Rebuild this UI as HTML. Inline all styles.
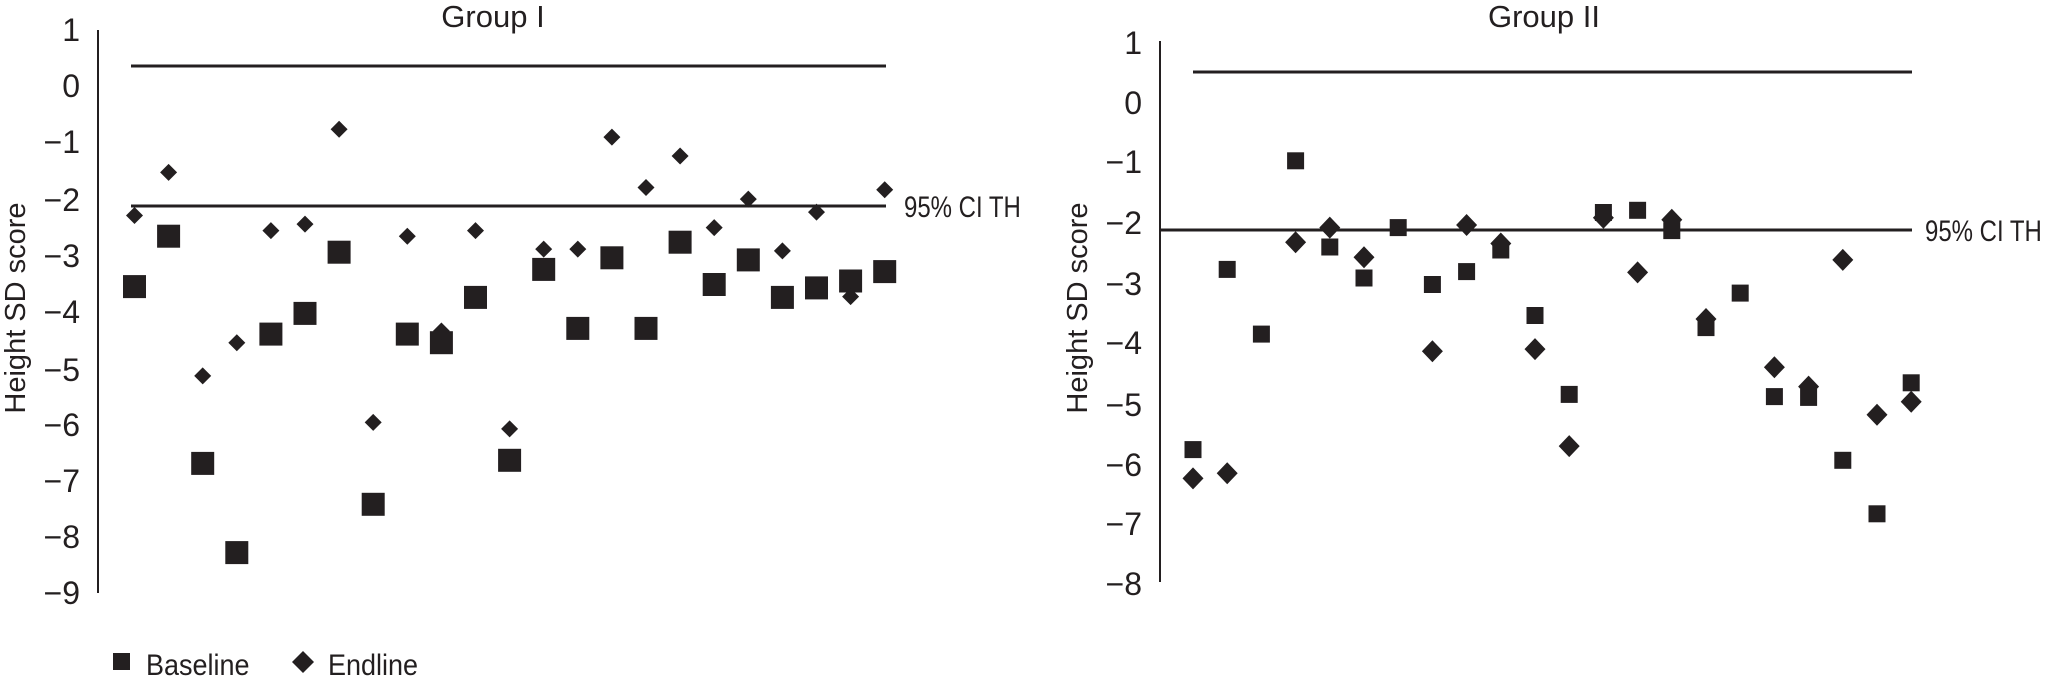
<!DOCTYPE html>
<html><head><meta charset="utf-8"><style>
html,body{margin:0;padding:0;background:#fff;}
svg{display:block;}
text{font-family:"Liberation Sans Narrow","Liberation Sans",sans-serif;fill:#231f20;}
</style></head><body>
<svg width="2058" height="676" viewBox="0 0 2058 676" xmlns="http://www.w3.org/2000/svg">
<defs>
<rect id="sqL" x="-11.5" y="-11.5" width="23" height="23" fill="#231f20"/>
<polygon id="dmL" points="0,-8.5 8.5,0 0,8.5 -8.5,0" fill="#231f20"/>
<rect id="sqR" x="-8.5" y="-8.5" width="17" height="17" fill="#231f20"/>
<polygon id="dmR" points="0,-11 10.5,0 0,11 -10.5,0" fill="#231f20"/>
</defs>
<!-- LEFT -->
<g font-size="32" text-anchor="end">
<text x="80" y="41">1</text><text x="80" y="97">0</text><text x="80" y="153">−1</text><text x="80" y="211">−2</text><text x="80" y="267">−3</text><text x="80" y="323">−4</text><text x="80" y="381">−5</text><text x="80" y="436">−6</text><text x="80" y="492">−7</text><text x="80" y="548">−8</text><text x="80" y="604">−9</text>
</g>
<text transform="translate(25,308) rotate(-90)" font-size="29" text-anchor="middle">Height SD score</text>
<text x="493" y="27" font-size="31" text-anchor="middle">Group I</text>
<line x1="98" y1="30" x2="98" y2="593" stroke="#231f20" stroke-width="2"/>
<line x1="131" y1="66" x2="886" y2="66" stroke="#231f20" stroke-width="3"/>
<line x1="131" y1="206" x2="886" y2="206" stroke="#231f20" stroke-width="3"/>
<text x="904" y="217" font-size="30" transform="translate(904,0) scale(0.8,1) translate(-904,0)">95% CI TH</text>
<use href="#sqL" x="134.5" y="286.6"/><use href="#sqL" x="168.6" y="236.2"/><use href="#sqL" x="202.7" y="463.4"/><use href="#sqL" x="236.8" y="552.6"/><use href="#sqL" x="270.9" y="334.1"/><use href="#sqL" x="305" y="313.4"/><use href="#sqL" x="339.1" y="252.2"/><use href="#sqL" x="373.2" y="504.3"/><use href="#sqL" x="407.3" y="334.1"/><use href="#sqL" x="441.4" y="342.7"/><use href="#sqL" x="475.5" y="297.4"/><use href="#sqL" x="509.6" y="460.3"/><use href="#sqL" x="543.7" y="269.4"/><use href="#sqL" x="577.8" y="328.4"/><use href="#sqL" x="611.9" y="257.8"/><use href="#sqL" x="646" y="328.4"/><use href="#sqL" x="680.1" y="242.2"/><use href="#sqL" x="714.2" y="284.5"/><use href="#sqL" x="748.3" y="259.9"/><use href="#sqL" x="782.4" y="297.4"/><use href="#sqL" x="816.5" y="287.9"/><use href="#sqL" x="850.6" y="281"/><use href="#sqL" x="884.7" y="271.6"/>
<use href="#dmL" x="134.5" y="215.5"/><use href="#dmL" x="168.6" y="172.4"/><use href="#dmL" x="202.7" y="375.9"/><use href="#dmL" x="236.8" y="342.7"/><use href="#dmL" x="270.9" y="230.6"/><use href="#dmL" x="305" y="224.1"/><use href="#dmL" x="339.1" y="129.3"/><use href="#dmL" x="373.2" y="422.4"/><use href="#dmL" x="407.3" y="236.2"/><use href="#dmL" x="441.4" y="331"/><use href="#dmL" x="475.5" y="230.6"/><use href="#dmL" x="509.6" y="428.9"/><use href="#dmL" x="543.7" y="249.1"/><use href="#dmL" x="577.8" y="249.1"/><use href="#dmL" x="611.9" y="137.1"/><use href="#dmL" x="646" y="187.5"/><use href="#dmL" x="680.1" y="156"/><use href="#dmL" x="714.2" y="227.6"/><use href="#dmL" x="748.3" y="199.1"/><use href="#dmL" x="782.4" y="250.9"/><use href="#dmL" x="816.5" y="212.1"/><use href="#dmL" x="850.6" y="296.6"/><use href="#dmL" x="884.7" y="189.7"/>
<!-- legend -->
<rect x="113" y="653" width="17" height="17" fill="#231f20"/>
<text x="146" y="675" font-size="30" transform="translate(146,0) scale(0.9,1) translate(-146,0)">Baseline</text>
<polygon points="303,651 314,662 303,673 292,662" fill="#231f20"/>
<text x="328" y="675" font-size="30" transform="translate(328,0) scale(0.9,1) translate(-328,0)">Endline</text>
<!-- RIGHT -->
<g font-size="32" text-anchor="end">
<text x="1142" y="54">1</text><text x="1142" y="114">0</text><text x="1142" y="173">−1</text><text x="1142" y="234">−2</text><text x="1142" y="295">−3</text><text x="1142" y="354">−4</text><text x="1142" y="416">−5</text><text x="1142" y="476">−6</text><text x="1142" y="535">−7</text><text x="1142" y="595">−8</text>
</g>
<text transform="translate(1087,308) rotate(-90)" font-size="29" text-anchor="middle">Height SD score</text>
<text x="1544" y="27" font-size="31" text-anchor="middle">Group II</text>
<line x1="1160" y1="41" x2="1160" y2="582" stroke="#231f20" stroke-width="2"/>
<line x1="1193" y1="72" x2="1912" y2="72" stroke="#231f20" stroke-width="3"/>
<line x1="1160" y1="230" x2="1912" y2="230" stroke="#231f20" stroke-width="3"/>
<text x="1925" y="241" font-size="30" transform="translate(1925,0) scale(0.8,1) translate(-1925,0)">95% CI TH</text>
<use href="#sqR" x="1193" y="449.6"/><use href="#sqR" x="1227.2" y="269.4"/><use href="#sqR" x="1261.4" y="334.1"/><use href="#sqR" x="1295.6" y="160.8"/><use href="#sqR" x="1329.8" y="247"/><use href="#sqR" x="1364" y="278"/><use href="#sqR" x="1398.2" y="227.6"/><use href="#sqR" x="1432.4" y="284.5"/><use href="#sqR" x="1466.6" y="271.6"/><use href="#sqR" x="1500.8" y="250"/><use href="#sqR" x="1535" y="315.5"/><use href="#sqR" x="1569.2" y="394.4"/><use href="#sqR" x="1603.4" y="212.5"/><use href="#sqR" x="1637.6" y="210.3"/><use href="#sqR" x="1671.8" y="230.6"/><use href="#sqR" x="1706" y="327.6"/><use href="#sqR" x="1740.2" y="293.1"/><use href="#sqR" x="1774.4" y="396.6"/><use href="#sqR" x="1808.6" y="397.4"/><use href="#sqR" x="1842.8" y="460.3"/><use href="#sqR" x="1877" y="513.8"/><use href="#sqR" x="1911.2" y="382.8"/>
<use href="#dmR" x="1193" y="478.4"/><use href="#dmR" x="1227.2" y="473.3"/><use href="#dmR" x="1295.6" y="242.2"/><use href="#dmR" x="1329.8" y="227.6"/><use href="#dmR" x="1364" y="257.3"/><use href="#dmR" x="1432.4" y="351.3"/><use href="#dmR" x="1466.6" y="225"/><use href="#dmR" x="1500.8" y="243.5"/><use href="#dmR" x="1535" y="349.1"/><use href="#dmR" x="1569.2" y="446.1"/><use href="#dmR" x="1603.4" y="217.7"/><use href="#dmR" x="1637.6" y="272.4"/><use href="#dmR" x="1671.8" y="219.8"/><use href="#dmR" x="1706" y="319"/><use href="#dmR" x="1774.4" y="367.2"/><use href="#dmR" x="1808.6" y="386.6"/><use href="#dmR" x="1842.8" y="259.9"/><use href="#dmR" x="1877" y="414.7"/><use href="#dmR" x="1911.2" y="401.7"/>
</svg>
</body></html>
